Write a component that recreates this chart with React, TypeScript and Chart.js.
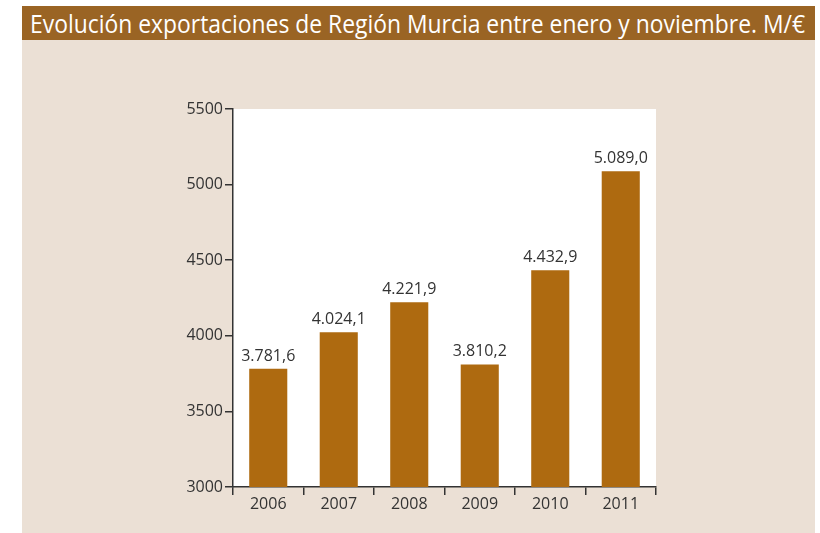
import React, { useEffect, useLayoutEffect, useRef } from "react";
import { Chart, registerables } from "chart.js";

Chart.register(...registerables);

const TITLE = "Evolución exportaciones de Región Murcia entre enero y noviembre. M/€";
const categories = ["2006", "2007", "2008", "2009", "2010", "2011"];
const values = [3781.6, 4024.1, 4221.9, 3810.2, 4432.9, 5089.0];
const yTicks = [3000, 3500, 4000, 4500, 5000, 5500];

const BAR_COLOR = "#ae6a10";
const TEXT_COLOR = "#333333";
const FONT = "'Open Sans', 'DejaVu Sans', sans-serif";

function fmt(v: number): string {
  const [i, d] = v.toFixed(1).split(".");
  const int = i.replace(/\B(?=(\d{3})+(?!\d))/g, ".");
  return int + "," + d;
}

const bgPlugin = {
  id: "areaBg",
  beforeDraw(chart: any) {
    const { ctx, chartArea } = chart;
    ctx.save();
    ctx.fillStyle = "#ffffff";
    ctx.fillRect(chartArea.left, chartArea.top, chartArea.right - chartArea.left, chartArea.bottom - chartArea.top);
    ctx.restore();
  },
};

const labelPlugin = {
  id: "valueLabels",
  afterDatasetsDraw(chart: any) {
    const { ctx } = chart;
    const meta = chart.getDatasetMeta(0);
    ctx.save();
    ctx.fillStyle = TEXT_COLOR;
    ctx.font = `16px ${FONT}`;
    ctx.textAlign = "center";
    ctx.textBaseline = "alphabetic";
    meta.data.forEach((el: any, i: number) => {
      ctx.fillText(fmt(values[i]), el.x, el.y - 8);
    });
    ctx.restore();
  },
};

export default function App() {
  const ref = useRef<HTMLCanvasElement>(null);
  const titleRef = useRef<HTMLSpanElement>(null);

  useLayoutEffect(() => {
    const el = titleRef.current;
    if (!el) return;
    const w = el.getBoundingClientRect().width;
    if (w > 0) el.style.transform = `scaleX(${775 / w})`;
  }, []);

  useEffect(() => {
    if (!ref.current) return;
    const chart = new Chart(ref.current, {
      type: "bar",
      data: {
        labels: categories,
        datasets: [
          {
            data: values,
            backgroundColor: BAR_COLOR,
            barPercentage: 0.54,
            categoryPercentage: 1,
          },
        ],
      },
      options: {
        animation: false,
        responsive: false,
        maintainAspectRatio: false,
        layout: { padding: { left: 0, right: 164, top: 109, bottom: 0 } },
        plugins: { legend: { display: false }, tooltip: { enabled: false }, title: { display: false } },
        scales: {
          x: {
            offset: true,
            grid: { display: true, offset: true, drawOnChartArea: false, drawTicks: true, tickLength: 8, color: TEXT_COLOR, lineWidth: 1.5 },
            border: { display: true, color: TEXT_COLOR, width: 1.5 },
            ticks: { color: TEXT_COLOR, font: { family: FONT, size: 16 }, padding: 0 },
            afterFit(scale: any) { scale.height = 46; },
          },
          y: {
            min: 3000,
            max: 5500,
            afterBuildTicks(scale: any) { scale.ticks = yTicks.map((v) => ({ value: v })); },
            grid: { display: true, drawOnChartArea: false, drawTicks: true, tickLength: 8, color: TEXT_COLOR, lineWidth: 1.5 },
            border: { display: true, color: TEXT_COLOR, width: 1.5 },
            ticks: { color: TEXT_COLOR, font: { family: FONT, size: 16 }, padding: 2, callback: (v: any) => String(v) },
            afterFit(scale: any) { scale.width = 233; },
          },
        },
      },
      plugins: [bgPlugin, labelPlugin],
    });
    return () => chart.destroy();
  }, []);

  return (
    <div style={{ position: "fixed", left: 0, top: 0, width: 820, height: 533, background: "#ffffff", overflow: "hidden" }}>
      <div style={{ position: "absolute", left: 22, top: 6, width: 793, height: 34, background: "#9a6424" }} />
      <span
        ref={titleRef}
        style={{
          position: "absolute",
          left: 30,
          top: 6,
          height: 34,
          lineHeight: "34px",
          color: "#ffffff",
          fontFamily: "'Open Sans', 'DejaVu Sans', sans-serif",
          fontSize: 25,
          whiteSpace: "nowrap",
          display: "inline-block",
          transformOrigin: "left center",
        }}
      >
        {TITLE}
      </span>
      <div style={{ position: "absolute", left: 22, top: 40, width: 793, height: 493, background: "#ebe0d5" }} />
      <canvas ref={ref} width={820} height={533} style={{ position: "absolute", left: 0, top: 0, width: 820, height: 533 }} />
    </div>
  );
}
